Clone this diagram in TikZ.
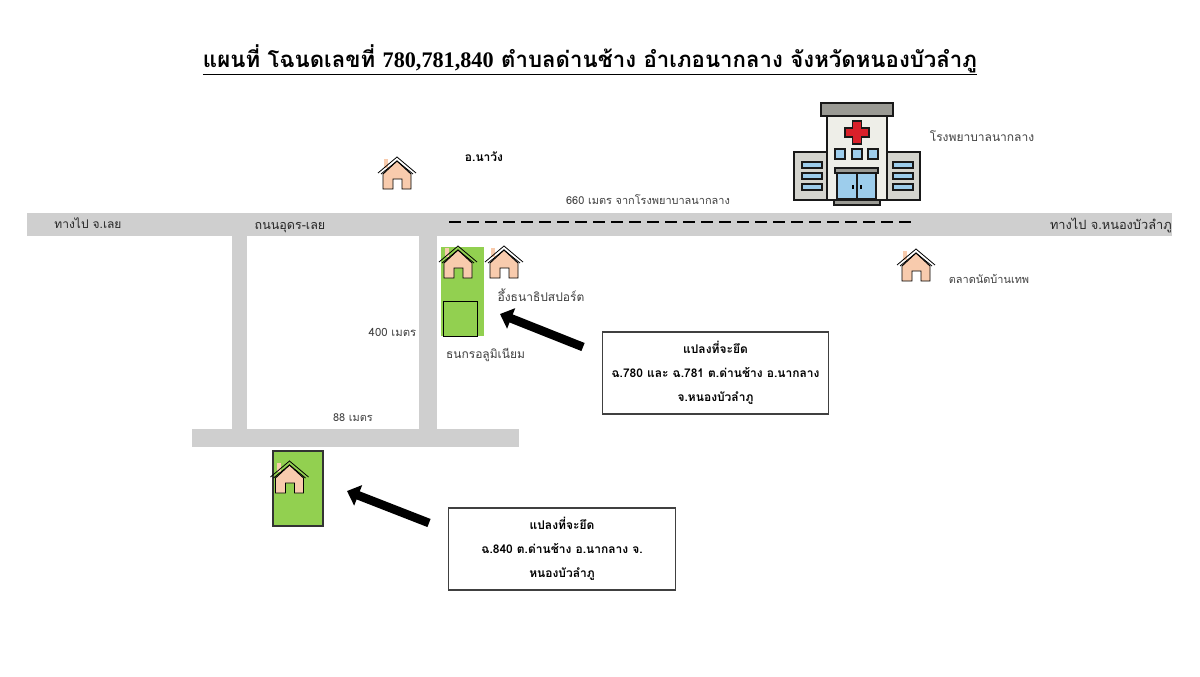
\documentclass[tikz,border=0pt]{standalone}
\usepackage{fontspec}
\setmainfont[Script=Thai]{Loma}
\newfontfamily\latinserif{Liberation Serif}
\usetikzlibrary{arrows.meta}
\definecolor{roadgrey}{HTML}{CFCFCF}
\definecolor{plotgreen}{HTML}{92D050}
\definecolor{peach}{HTML}{F8CBAD}
\definecolor{glass}{HTML}{9DCDEC}
\definecolor{wallpale}{HTML}{EEEEE8}
\definecolor{wallgrey}{HTML}{D4D4CE}
\definecolor{capgrey}{HTML}{9A9A94}
\definecolor{crossred}{HTML}{D9202A}
\tikzset{
  road/.style={fill=roadgrey,draw=none},
  lbl/.style={font=\fontsize{9}{11}\selectfont,text=black!75,inner sep=0pt},
  lblsmall/.style={font=\fontsize{8.2}{10}\selectfont,text=black!75,inner sep=0pt},
  roadlbl/.style={font=\fontsize{9}{11}\selectfont,text=black!85,inner sep=0pt},
  notebox/.style={draw=black!75,line width=0.8pt,fill=white,align=center,inner sep=0pt,
     font=\fontsize{9}{18}\selectfont\bfseries},
  bigarrow/.style={line width=6.5pt,-{Triangle[width=16pt,length=9pt]}},
  hosp/.style={draw=black!90,line width=1.7pt,line join=miter},
  housepic/.pic={
    \fill[peach] (-13,-14) rectangle (-9,-5);
    \fill[peach,draw=black,line width=0.7pt] (-14,1) -- (0,-12) -- (14,1) -- (14,16) -- (5,16) -- (5,6) -- (-4,6) -- (-4,16) -- (-14,16) -- cycle;
    \draw[black,line width=0.6pt,line join=miter] (-19,0) -- (0,-16) -- (19,0);
    \draw[black,line width=0.6pt] (-16,1) -- (0,-12) -- (16,1);
  }
}
\begin{document}
\begin{tikzpicture}[x=0.75pt,y=-0.75pt]
\useasboundingbox (0,0) rectangle (1200,676);
\fill[white] (0,0) rectangle (1200,676);

% title
\node[inner sep=0pt] (title) at (590,60) {\resizebox{580.5pt}{!}{\fontsize{16}{18}\selectfont\bfseries\underline{แผนที่ โฉนดเลขที่ {\latinserif 780,781,840} ตำบลด่านช้าง อำเภอนากลาง จังหวัดหนองบัวลำภู}}};

% roads
\fill[road] (27,213) rectangle (1172,236);
\fill[road] (232,236) rectangle (247,430);
\fill[road] (419,236) rectangle (437,430);
\fill[road] (192,429) rectangle (519,447);

% dashed line
\coordinate (dashA) at (449,222);
\coordinate (dashB) at (911,222);
\draw[black,line width=2.2pt,dash pattern=on 9pt off 4.5pt] (dashA) -- (dashB);

% plots
\fill[plotgreen] (441,247) rectangle (484,336);
\draw[black,line width=0.7pt,fill=plotgreen] (443,301) rectangle (477,336);
\draw[black!80,line width=0.8pt,fill=plotgreen] (273,451) rectangle (323,526);

% houses
\pic at (397,173) {housepic};
\pic at (458,262) {housepic};
\pic at (504,262) {housepic};
\pic at (289.5,477) {housepic};
\pic at (916,265) {housepic};

% hospital
\begin{scope}
\draw[hosp,fill=wallgrey] (794,152) rectangle (827,200);
\draw[hosp,fill=wallgrey] (887,152) rectangle (920,200);
\draw[hosp,fill=wallpale] (827,116) rectangle (887,200);
\draw[hosp,fill=capgrey] (821,103) rectangle (893,116);
\draw[hosp,fill=crossred,line width=1.2pt] (852.5,121) -- (861.5,121) -- (861.5,128) -- (869,128) -- (869,137) -- (861.5,137) -- (861.5,144) -- (852.5,144) -- (852.5,137) -- (845,137) -- (845,128) -- (852.5,128) -- cycle;
\foreach \xa in {835,852,868} \draw[hosp,fill=glass] (\xa,149) rectangle ++(10,10);
\foreach \ya in {162,173,184} {
  \draw[hosp,fill=glass,line width=1.5pt] (802,\ya) rectangle ++(20,6);
  \draw[hosp,fill=glass,line width=1.5pt] (893,\ya) rectangle ++(20,6);
}
\draw[hosp,fill=glass] (837,173) rectangle (857,199);
\draw[hosp,fill=glass] (857,173) rectangle (876,199);
\draw[black,line width=0.8pt] (853,185) -- (853,189) (861,185) -- (861,189);
\draw[hosp,fill=capgrey] (835,168) rectangle (878,173);
\draw[hosp,fill=capgrey] (834,200) rectangle (880,205);
\end{scope}

% labels
\node[lbl] (lblHosp) at (982,136) {โรงพยาบาลนากลาง};
\node[lbl,font=\fontsize{9}{11}\selectfont\bfseries,text=black] (lblWang) at (484,157) {อ.นาวัง};
\node[lblsmall] (lblDist) at (648,200) {660 เมตร จากโรงพยาบาลนากลาง};
\node[roadlbl] (lblLoei) at (88,223) {ทางไป จ.เลย};
\node[roadlbl,font=\fontsize{9.4}{11}\selectfont] (lblUdon) at (290,228) {ถนนอุดร-เลย};
\node[roadlbl,anchor=east,font=\fontsize{9.6}{11}\selectfont] (lblNong) at (1172,225) {ทางไป จ.หนองบัวลำภู};
\node[lblsmall] (lblMarket) at (989,279) {ตลาดนัดบ้านเทพ};
\node[lbl] (lblSport) at (541,295) {อึ้งธนาธิปสปอร์ต};
\node[lbl] (lblAlu) at (485.5,355) {ธนกรอลูมิเนียม};
\node[lblsmall,font=\fontsize{8.5}{10}\selectfont] (lbl400) at (392.5,332) {400 เมตร};
\node[lblsmall] (lbl88) at (353,418) {88 เมตร};

% callout boxes
\node[notebox,minimum width=170pt,minimum height=61.5pt] (boxA) at (715.5,373) {แปลงที่จะยึด\\ฉ.780 และ ฉ.781 ต.ด่านช้าง อ.นากลาง\\จ.หนองบัวลำภู};
\node[notebox,minimum width=170pt,minimum height=61.5pt] (boxB) at (562,549) {แปลงที่จะยึด\\ฉ.840 ต.ด่านช้าง อ.นากลาง จ.\\หนองบัวลำภู};

% arrows
\coordinate (tailA) at (583,347);
\coordinate (tipA) at (500,314);
\coordinate (tailB) at (429,523);
\coordinate (tipB) at (347,491);
\draw[bigarrow] (tailA) -- (tipA);
\draw[bigarrow] (tailB) -- (tipB);
\end{tikzpicture}
\end{document}
